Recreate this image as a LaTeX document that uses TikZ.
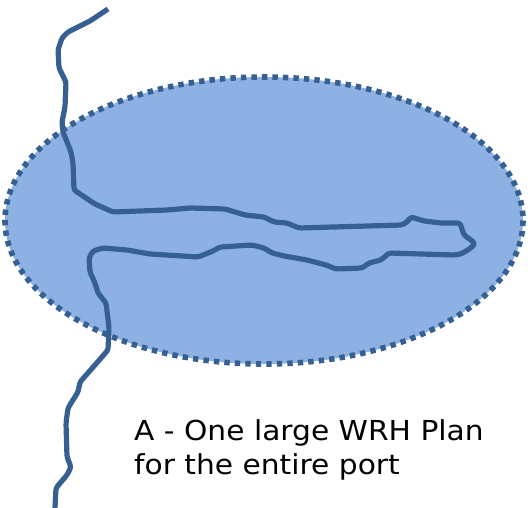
\documentclass[tikz,border=0pt]{standalone}
\usepackage{fontspec}
\setmainfont[FakeStretch=1.08]{DejaVu Sans}
\definecolor{zonefill}{HTML}{8DB1E2}
\definecolor{riverblue}{HTML}{376092}
\tikzset{
  zone/.style={draw=riverblue,fill=zonefill,line width=5.6pt,dash pattern=on 5.4pt off 5.1pt},
  river/.style={draw=riverblue,line width=5.2pt,line join=round,rounded corners=2.5pt},
  caption/.style={anchor=base west,inner sep=0pt,font=\fontsize{27.5}{32}\selectfont,text=black}
}
\begin{document}
\begin{tikzpicture}[x=1pt,y=-1pt]
\useasboundingbox (0,0) rectangle (528,508);
\draw[zone] (264,220.5) ellipse [x radius=259, y radius=143.5];
\draw[river] (108,9) -- (90,21) -- (78,27) -- (68,32) -- (62,38) -- (58,50) -- (59,68) -- (66,82) -- (65,107) -- (62,122) -- (63,132) -- (71,152) -- (73,163) -- (74,190) -- (95,204) -- (113,212) -- (167,210) -- (190,208) -- (225,209) -- (245,215) -- (264,217) -- (274,222) -- (287,223) -- (299,228) -- (402,225) -- (407,222) -- (411,217) -- (424,221) -- (441,223) -- (460,223) -- (464,235) -- (475,243) -- (471,248) -- (461,254) -- (454,255) -- (389,253) -- (381,260) -- (369,263) -- (362,268) -- (336,269) -- (326,265) -- (307,260) -- (284,256) -- (272,253) -- (264,248) -- (252,245) -- (220,247) -- (213,251) -- (198,257) -- (150,254) -- (127,250) -- (103,248) -- (93,251) -- (89,258) -- (90,272) -- (95,283) -- (98,293) -- (106,303) -- (109,327) -- (108,350) -- (95,365) -- (80,382) -- (78,392) -- (68,408) -- (66,423) -- (67,457) -- (71,467) -- (67,475) -- (56,488) -- (55,508);
\node[caption] (line1) at (134,440) {A - One large WRH Plan};
\node[caption] (line2) at (134,474) {for the entire port};
\end{tikzpicture}
\end{document}
